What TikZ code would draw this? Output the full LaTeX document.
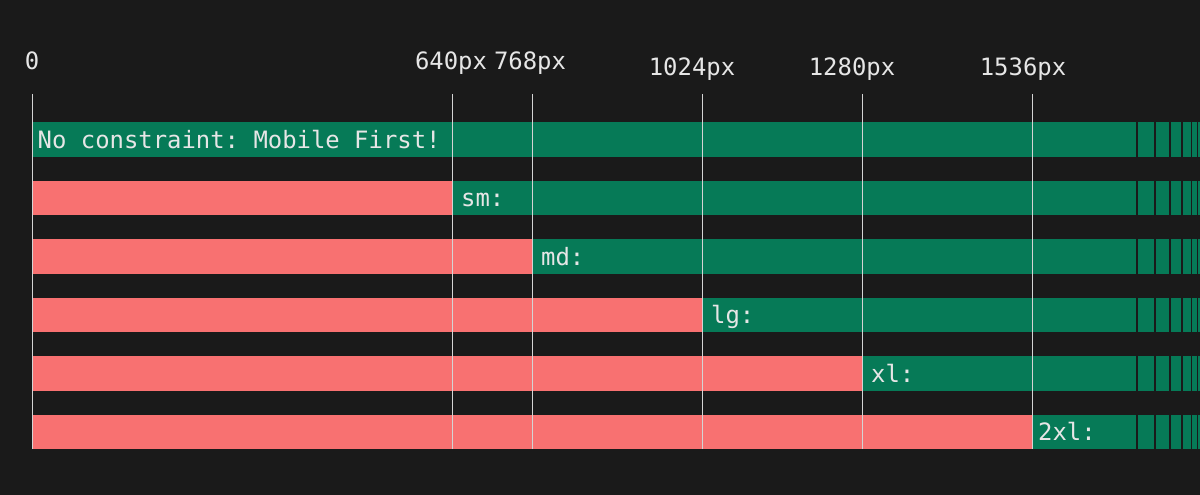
\documentclass[tikz,border=0pt]{standalone}
\usepackage{fontspec}
\setmonofont{DejaVu Sans Mono}
\definecolor{bg}{HTML}{1A1A1A}
\definecolor{grn}{HTML}{067A57}
\definecolor{pnk}{HTML}{F87171}
\definecolor{txt}{HTML}{E6E6E6}
\definecolor{gridl}{HTML}{D4D4D4}
\tikzset{
  lbl/.style={inner sep=0pt, anchor=base, text=txt, font=\ttfamily\fontsize{23.9}{28}\selectfont},
  barlbl/.style={inner sep=0pt, anchor=base west, text=txt, font=\ttfamily\fontsize{23.9}{28}\selectfont},
  gline/.style={draw=gridl, line width=0.8pt},
}
\begin{document}
\begin{tikzpicture}[x=1pt,y=-1pt]
\fill[bg] (0,0) rectangle (1200,495);
\useasboundingbox (0,0) rectangle (1200,495);
% bars
\foreach \k/\b in {0/32.5,1/452.5,2/532.5,3/702.5,4/862.5,5/1032.5}{
  \pgfmathsetmacro{\yt}{122+58.55*\k}
  \pgfmathsetmacro{\yb}{\yt+34.7}
  \ifnum\k>0 \fill[pnk] (32.5,\yt) rectangle (\b,\yb); \fi
  \fill[grn] (\b,\yt) rectangle (1136,\yb);
  \foreach \xa/\xb in {1138/1154,1156/1169,1171/1181,1183/1191,1192.3/1197,1198/1200}{
    \fill[grn] (\xa,\yt) rectangle (\xb,\yb);
  }
}
% grid lines
\foreach \n/\x in {l0/32.5,l1/452.5,l2/532.5,l3/702.5,l4/862.5,l5/1032.5}{
  \coordinate (\n top) at (\x,94);
  \coordinate (\n bot) at (\x,449.3);
  \draw[gline] (\n top) -- (\n bot);
}
% top labels
\node[lbl] (t0) at (32,70) {0};
\node[lbl] (t640) at (451,70) {640px};
\node[lbl] (t768) at (530,70) {768px};
\node[lbl] (t1024) at (692,76) {1024px};
\node[lbl] (t1280) at (852,76) {1280px};
\node[lbl] (t1536) at (1023,76) {1536px};
% bar labels
\node[barlbl] (b0) at (37.5,148) {No constraint: Mobile First!};
\node[barlbl] (b1) at (461,206.55) {sm:};
\node[barlbl] (b2) at (541,265.1) {md:};
\node[barlbl] (b3) at (711,323.65) {lg:};
\node[barlbl] (b4) at (871,382.2) {xl:};
\node[barlbl] (b5) at (1038,440.75) {2xl:};
\end{tikzpicture}
\end{document}
